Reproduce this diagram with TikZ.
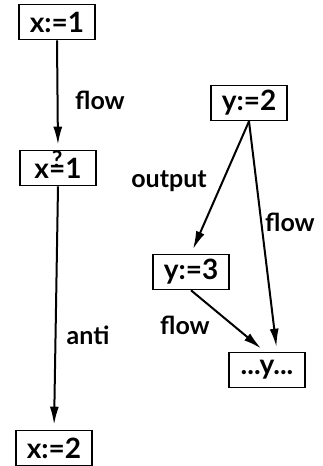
\documentclass[tikz,border=0pt]{standalone}
\usepackage{fontspec}
\setmainfont{Lato}
\usetikzlibrary{arrows.meta}
\newcommand{\qeq}{\smash{\ooalign{=\cr\hidewidth\raisebox{11pt}{\fontsize{23}{23}\selectfont\bfseries ?}\hidewidth\cr}}}
\begin{document}
\begin{tikzpicture}[x=1pt,y=-1pt,
  stmt/.style={draw,line width=1.6pt,minimum width=76pt,minimum height=35pt,inner sep=0pt,font=\fontsize{28}{30}\selectfont\bfseries},
  dep/.style={line width=2pt,shorten >=5pt,-{Latex[length=18pt,width=9pt]}},
  lbl/.style={font=\fontsize{25}{28}\selectfont\bfseries}]
\useasboundingbox (0,0) rectangle (322,466);
\node[stmt] (x1) at (57,22) {x:=1};
\node[stmt] (xq) at (58,168) {x\qeq 1};
\node[stmt] (x2) at (54,448) {x:=2};
\node[stmt] (y2) at (249,103) {y:=2};
\node[stmt] (y3) at (191,272) {y:=3};
\node[stmt] (yy) at (267,370) {...y...};
\draw[dep] (x1.south) -- (xq.north);
\draw[dep] (xq.south) -- (x2.north);
\draw[dep] (y2.south) -- (y3.north);
\draw[dep] (y2.south) -- ([xshift=10pt]yy.north);
\draw[dep] (y3.south) -- ([xshift=-2pt]yy.north);
\node[lbl] (l1) at (100,100) {flow};
\node[lbl] (l2) at (88,335) {anti};
\node[lbl] (l3) at (169,181) {output};
\node[lbl] (l4) at (290,222) {flow};
\node[lbl] (l5) at (185,325) {flow};
\end{tikzpicture}
\end{document}
